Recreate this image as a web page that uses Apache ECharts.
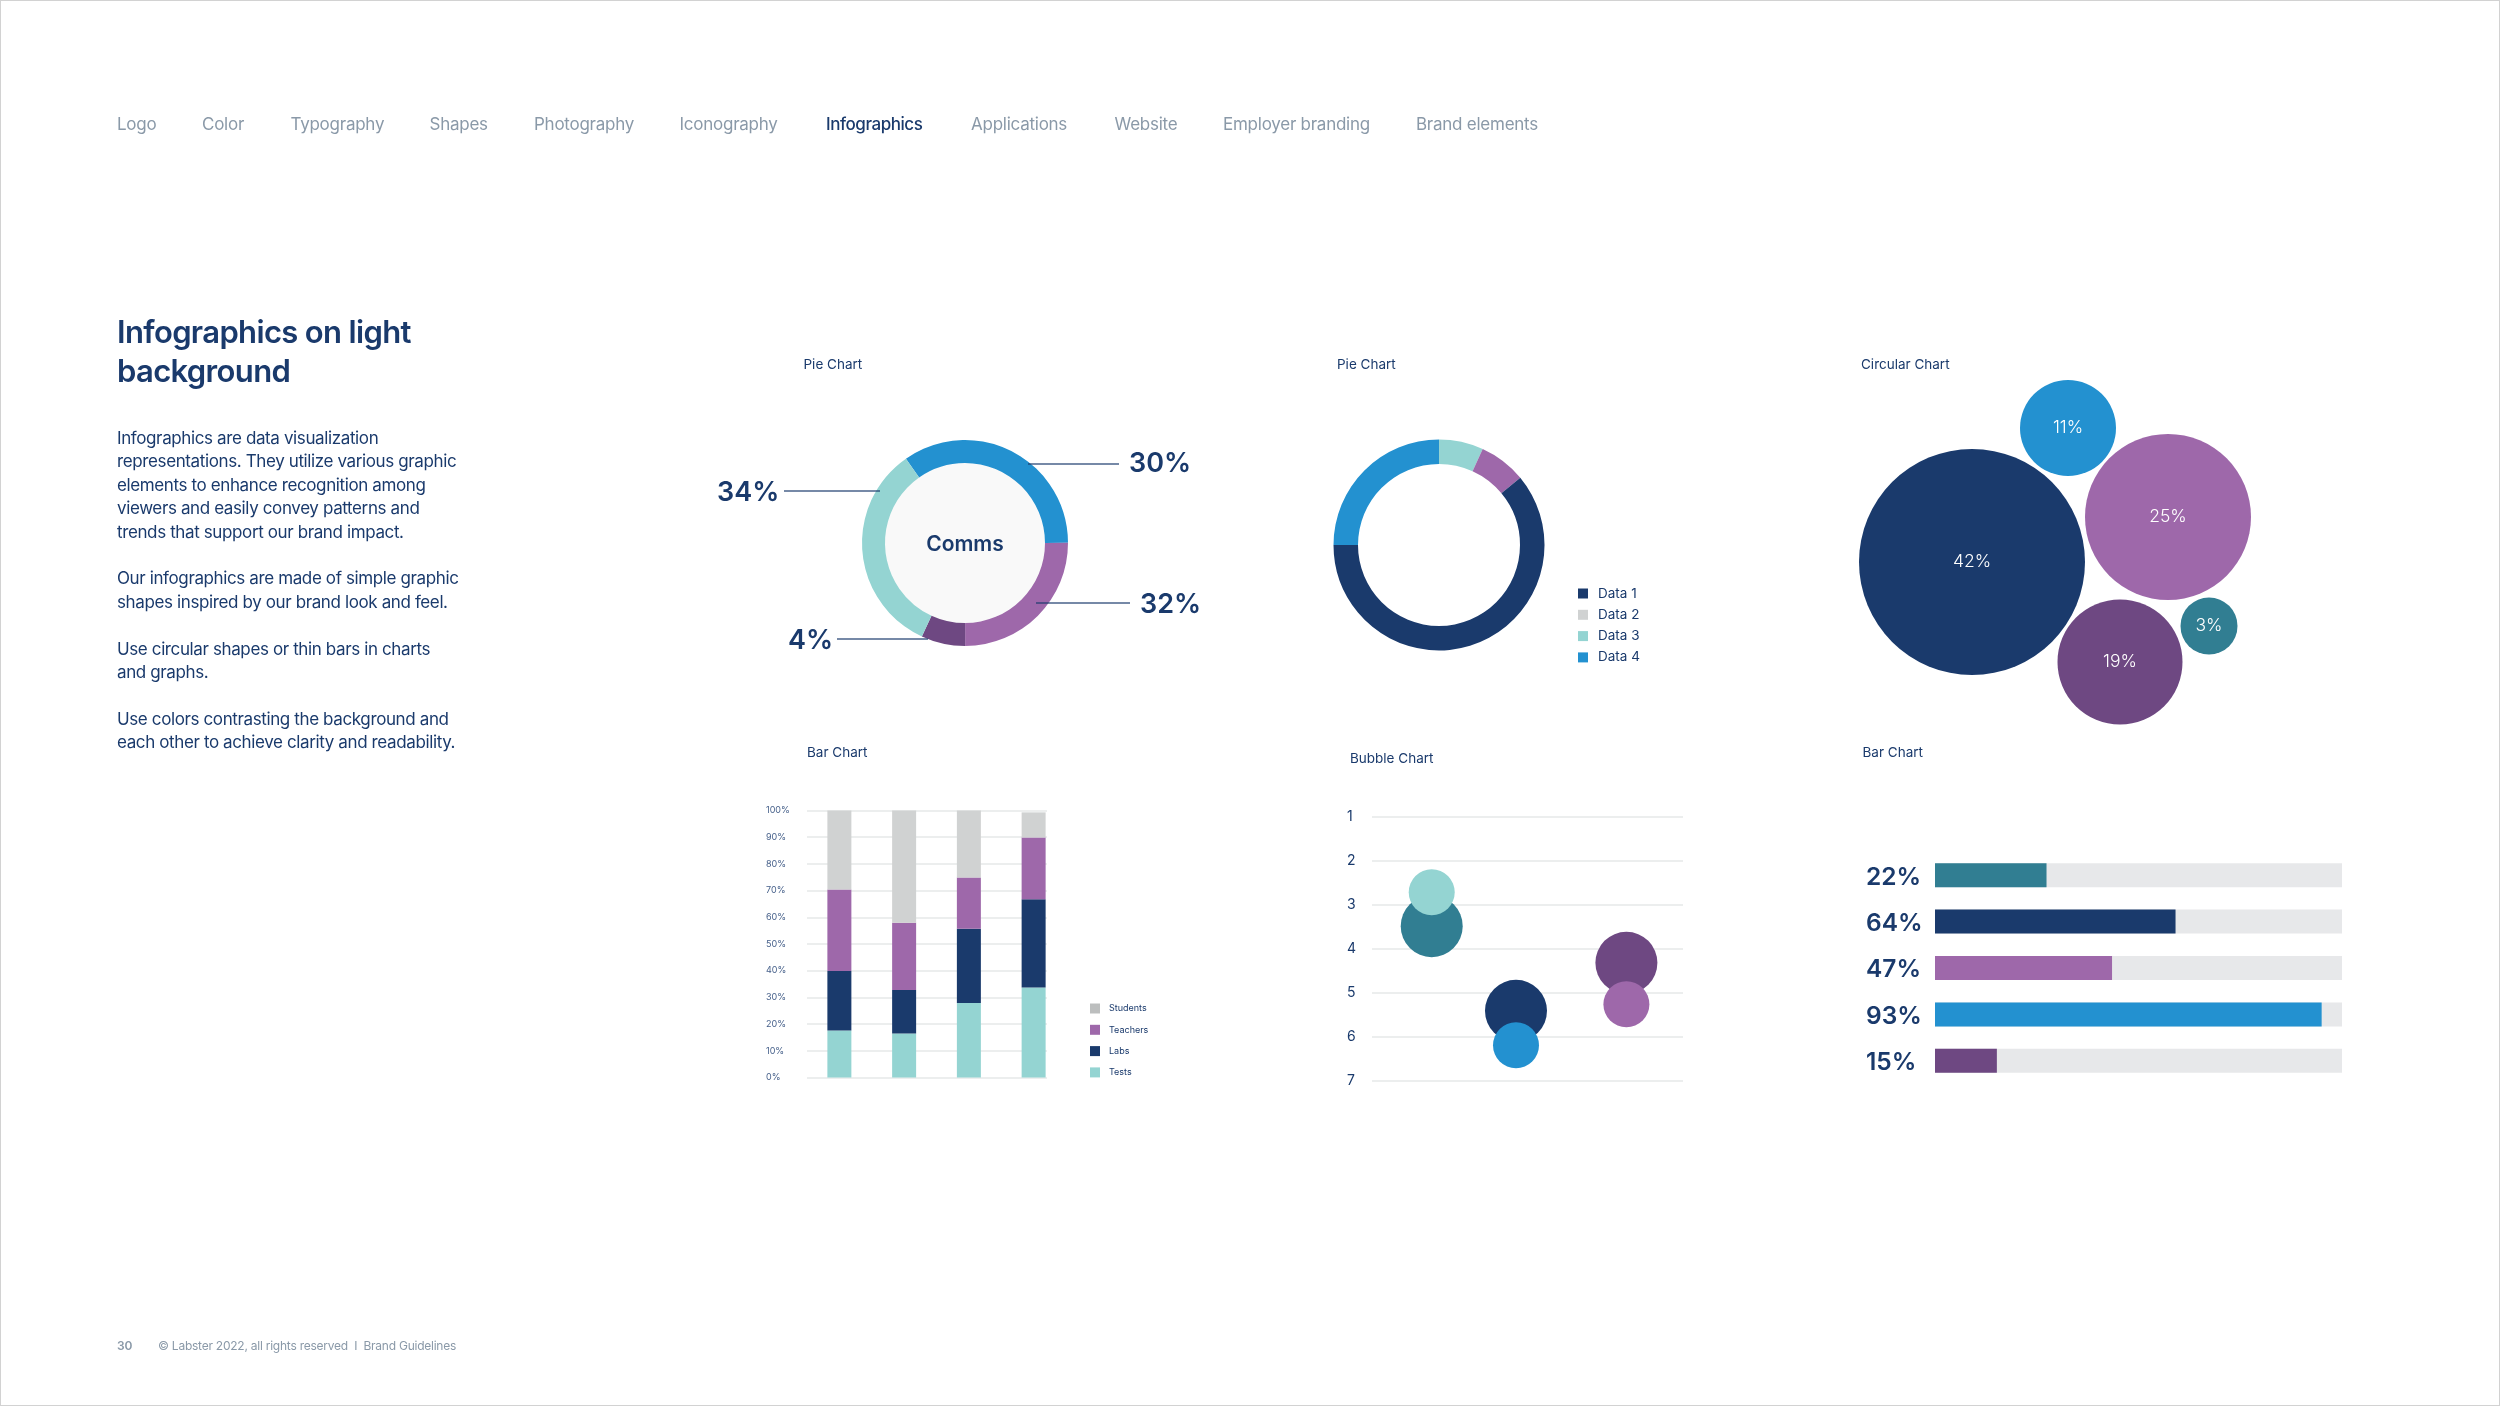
<!DOCTYPE html>
<html lang="en">

<head>
    <meta charset="UTF-8">
    <title>Infographics on light background</title>
    <script src="https://cdn.jsdelivr.net/npm/echarts@6/dist/echarts.min.js"></script>
    <style>
        html, body { margin: 0; padding: 0; background: #fff; }
        #page {
            position: relative;
            width: 2500px;
            height: 1406px;
            box-sizing: border-box;
            border: 1px solid #d2d2d2;
            overflow: hidden;
            font-family: Inter, sans-serif;
            color: #1a3a6c;
        }
        #main { position: absolute; left: -1px; top: -1px; width: 2500px; height: 1406px; }
        .txt { position: absolute; white-space: nowrap; }
        .nav { top: 112px; font-size: 17px; line-height: 22px; color: #8a99a8; letter-spacing: -0.25px; }
        .nav.on { color: #1a3a6c; font-weight: 500; letter-spacing: -0.45px; }
        h1 {
            position: absolute; left: 116px; top: 310.5px; margin: 0;
            font-size: 31px; line-height: 39.5px; font-weight: 600; letter-spacing: -0.65px;
            white-space: nowrap;
        }
        #copy { position: absolute; left: 116px; top: 426px; font-size: 17px; line-height: 23.4px; letter-spacing: -0.38px; white-space: nowrap; }
        #copy p { margin: 0 0 23.4px 0; }
        .foot { top: 1337px; font-size: 12px; line-height: 16px; color: #8a99a8; letter-spacing: -0.24px; }
    </style>
</head>

<body>
    <div id="page">
        <div id="main"></div>
        <span class="txt nav" style="left:116px">Logo</span>
        <span class="txt nav" style="left:201px">Color</span>
        <span class="txt nav" style="left:289.5px">Typography</span>
        <span class="txt nav" style="left:428.5px">Shapes</span>
        <span class="txt nav" style="left:533px">Photography</span>
        <span class="txt nav" style="left:678.5px">Iconography</span>
        <span class="txt nav on" style="left:825px">Infographics</span>
        <span class="txt nav" style="left:970px">Applications</span>
        <span class="txt nav" style="left:1113.5px">Website</span>
        <span class="txt nav" style="left:1222px">Employer branding</span>
        <span class="txt nav" style="left:1415px">Brand elements</span>

        <h1>Infographics on light<br>background</h1>

        <div id="copy">
            <p>Infographics are data visualization<br>representations. They utilize various graphic<br>elements to enhance recognition among<br>viewers and easily convey patterns and<br>trends that support our brand impact.</p>
            <p>Our infographics are made of simple graphic<br>shapes inspired by our brand look and feel.</p>
            <p>Use circular shapes or thin bars in charts<br>and graphs.</p>
            <p>Use colors contrasting the background and<br>each other to achieve clarity and readability.</p>
        </div>

        <span class="txt foot" style="left:116px;font-weight:600">30</span>
        <span class="txt foot" style="left:157px">© Labster 2022, all rights reserved &nbsp;I&nbsp; Brand Guidelines</span>
    </div>

    <script>
        // colours
        var navy = '#1a3a6c', blue = '#2391d0', purple = '#9e68aa', plum = '#6e4882';
        var mint = '#94d4d2', teal = '#317e92', grey = '#d0d2d2', track = '#e7e8ea', rule = '#e6e9e9';
        var font = 'Inter, sans-serif';

        // pie 1 (slice sizes as drawn, labels as printed)
        var commsNames = ['A', 'B', 'C', 'D'];
        var commsShares = [34.7, 25, 6.9, 33.4];
        var commsColors = [blue, purple, plum, mint];
        var commsLabels = ['30%', '32%', '4%', '34%'];

        // pie 2
        var pieNames = ['Data 3', 'Other', 'Data 1', 'Data 4', 'Data 2'];
        var pieShares = [6.8, 7.2, 61, 25, 0];
        var pieColors = [mint, purple, navy, blue, grey];

        // circular chart
        var circleLabels = ['42%', '11%', '25%', '19%', '3%'];
        var circleX = [132, 228, 328, 280, 369];
        var circleY = [222, 88, 177, 322, 286];
        var circleSizes = [226, 96, 166, 125, 57];
        var circleColors = [navy, blue, purple, plum, teal];

        // stacked bars
        var stackCats = ['A', 'B', 'C', 'D'];
        var tests = [17.6, 16.5, 27.9, 33.7];
        var labs = [22.3, 16.3, 27.8, 33.1];
        var teachers = [30.5, 25.2, 19.2, 23.1];
        var students = [29.6, 42, 25.1, 9.4];

        // bubble chart
        var bubbleX = [19.2, 19.2, 46.3, 46.3, 81.8, 81.8];
        var bubbleY = [3.49, 2.72, 5.41, 6.19, 4.32, 5.26];
        var bubbleSizes = [62, 46, 62, 46, 62, 46];
        var bubbleColors = [teal, mint, navy, blue, plum, purple];

        // horizontal bars (length as drawn, labels as printed)
        var hbarLabels = ['22%', '64%', '47%', '93%', '15%'];
        var hbarValues = [27.4, 59.1, 43.5, 95, 15.2];
        var hbarColors = [teal, navy, purple, blue, plum];

        function caption(text, x, y) {
            return { text: text, left: x, top: y, padding: 0, textStyle: { color: navy, fontFamily: font, fontSize: 13.5, fontWeight: 400 } };
        }

        function leader(x1, x2, y) {
            return { type: 'line', silent: true, z: 10, shape: { x1: x1, y1: y, x2: x2, y2: y }, style: { stroke: navy, opacity: 0.6, lineWidth: 2 } };
        }

        function bigLabel(text, x, y) {
            return { type: 'text', silent: true, z: 10, x: x, y: y, style: { text: text, fill: navy, font: '600 27px ' + font, textVerticalAlign: 'middle' } };
        }

        function stackBar(name, data, color) {
            return {
                name: name, type: 'bar', stack: 'all', xAxisIndex: 2, yAxisIndex: 2, barWidth: 24, z: 5, silent: true,
                data: data, itemStyle: { color: color }
            };
        }

        // bold label nudged down a little from the middle of its slot
        function nudged(size, drop) {
            return { color: navy, fontFamily: font, fontSize: size, fontWeight: 600, verticalAlign: 'top', padding: [drop, 0, 0, 0] };
        }

        var hidden = { show: false };
        var myChart = echarts.init(document.getElementById('main'));

        myChart.setOption({
            animation: false,
            title: [
                caption('Pie Chart', 803.5, 358),
                caption('Pie Chart', 1337, 358),
                caption('Circular Chart', 1861, 358),
                caption('Bar Chart', 807, 746),
                caption('Bubble Chart', 1350, 752),
                caption('Bar Chart', 1862.5, 746)
            ],
            legend: [{
                orient: 'vertical', left: 1578, top: 586.5, padding: 0, itemWidth: 10, itemHeight: 10, itemGap: 7.3,
                selectedMode: false, icon: 'rect',
                textStyle: { color: navy, fontFamily: font, fontSize: 13.5, lineHeight: 14, padding: [0, 0, 0, 5] },
                data: ['Data 1', 'Data 2', 'Data 3', 'Data 4']
            }, {
                orient: 'vertical', left: 1090, top: 1003.5, padding: 0, itemWidth: 10, itemHeight: 10, itemGap: 11.3,
                selectedMode: false, icon: 'rect',
                textStyle: { color: navy, fontFamily: font, fontSize: 9, lineHeight: 10, padding: [0, 0, 0, 4] },
                data: [{ name: 'Students', itemStyle: { color: '#bcbebe' } }, 'Teachers', 'Labs', 'Tests']
            }],
            grid: [
                { left: 1840, top: 340, width: 420, height: 400 },  // circles
                { left: 807, top: 810.5, width: 240, height: 267 }, // stacked rules
                { left: 807, top: 810.5, width: 259, height: 267 }, // stacked bars
                { left: 1372, top: 816.3, width: 311, height: 264.7 }, // bubbles
                { left: 1935, top: 852, width: 407, height: 232 }   // hbars
            ],
            xAxis: [
                { type: 'value', gridIndex: 0, min: 0, max: 420, show: false },
                { type: 'value', gridIndex: 1, min: 0, max: 1, show: false },
                { type: 'category', gridIndex: 2, data: stackCats, show: false },
                { type: 'value', gridIndex: 3, min: 0, max: 100, show: false },
                { type: 'value', gridIndex: 4, min: 0, max: 100, show: false }
            ],
            yAxis: [
                { type: 'value', gridIndex: 0, min: 0, max: 400, inverse: true, show: false },
                {
                    type: 'value', gridIndex: 1, min: 0, max: 100, interval: 10,
                    axisLine: hidden, axisTick: hidden,
                    axisLabel: { formatter: '{value}%', align: 'left', margin: 41, color: '#46608a', fontFamily: font, fontSize: 9 },
                    splitLine: { lineStyle: { color: rule, width: 1.5 } }
                },
                { type: 'value', gridIndex: 2, min: 0, max: 100, show: false },
                {
                    type: 'value', gridIndex: 3, min: 1, max: 7, interval: 1, inverse: true,
                    axisLine: hidden, axisTick: hidden,
                    axisLabel: { align: 'left', margin: 25, color: navy, fontFamily: font, fontSize: 14 },
                    splitLine: { lineStyle: { color: rule, width: 1.5 } }
                },
                {
                    type: 'category', gridIndex: 4, inverse: true, data: hbarLabels,
                    axisLine: hidden, axisTick: hidden,
                    axisLabel: { align: 'left', margin: 69, formatter: '{a|{value}}', rich: { a: nudged(24.5, 4) } }
                }
            ],
            series: [{
                type: 'pie', center: [965, 543], radius: [0, 82], silent: true, z: 1,
                label: { position: 'center', formatter: '{a|{b}}', rich: { a: nudged(21, 4) } },
                labelLine: hidden,
                data: [{ name: 'Comms', value: 1, itemStyle: { color: '#f9f9f9' } }]
            }, {
                type: 'pie', center: [965, 543], radius: [80, 103], startAngle: 125, silent: true, z: 2,
                label: hidden, labelLine: hidden,
                data: commsNames.map(function(n, i) {
                    return { name: n, value: commsShares[i], itemStyle: { color: commsColors[i] } };
                })
            }, {
                type: 'pie', center: [1439, 545], radius: [81, 105.5], startAngle: 90, silent: true,
                label: hidden, labelLine: hidden,
                data: pieNames.map(function(n, i) {
                    return { name: n, value: pieShares[i], itemStyle: { color: pieColors[i] } };
                })
            }, {
                type: 'scatter', xAxisIndex: 0, yAxisIndex: 0, silent: true,
                data: circleX.map(function(x, i) {
                    return {
                        value: [x, circleY[i]], symbolSize: circleSizes[i],
                        itemStyle: { color: circleColors[i], opacity: 1 },
                        label: { show: true, position: 'inside', formatter: circleLabels[i], color: '#fff', fontFamily: font, fontSize: 17.5, fontWeight: 300 }
                    };
                })
            },
            stackBar('Tests', tests, mint),
            stackBar('Labs', labs, navy),
            stackBar('Teachers', teachers, purple),
            stackBar('Students', students, grey),
            {
                type: 'scatter', xAxisIndex: 3, yAxisIndex: 3, silent: true,
                data: bubbleX.map(function(x, i) {
                    return { value: [x, bubbleY[i]], symbolSize: bubbleSizes[i], itemStyle: { color: bubbleColors[i], opacity: 1 } };
                })
            }, {
                type: 'bar', xAxisIndex: 4, yAxisIndex: 4, barWidth: 24, silent: true,
                showBackground: true, backgroundStyle: { color: track },
                data: hbarValues.map(function(v, i) {
                    return { value: v, itemStyle: { color: hbarColors[i] } };
                })
            }],
            graphic: [
                leader(1028, 1119, 464), leader(784, 880, 491), leader(1036, 1130, 603), leader(837, 928, 639),
                bigLabel(commsLabels[0], 1129, 464), bigLabel(commsLabels[3], 717, 493),
                bigLabel(commsLabels[1], 1140, 605), bigLabel(commsLabels[2], 788, 641)
            ]
        });
    </script>
</body>

</html>
